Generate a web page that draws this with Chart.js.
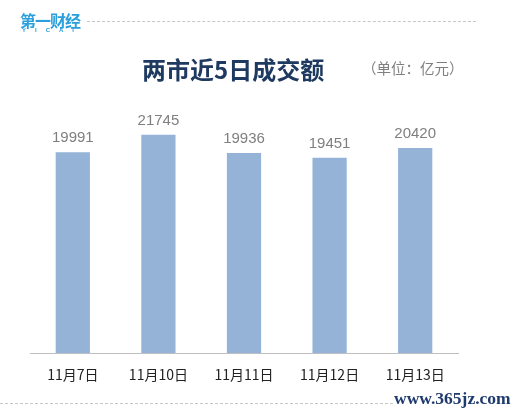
<!DOCTYPE html>
<html>
<head>
<meta charset="utf-8">
<script src="https://cdn.jsdelivr.net/npm/chart.js@4.4.0/dist/chart.umd.min.js"></script>
<style>
  body { margin: 0; background: #fff; }
  #wrap { position: relative; width: 518px; height: 411px; overflow: hidden; }
  #c { position: absolute; left: 0; top: 0; }
  .abs { position: absolute; white-space: nowrap; }
  #logo { left: 20px; top: 8px; font: bold 16px "Noto Sans CJK SC", sans-serif; color: #2a9fdc; letter-spacing: -1px; }
  #logoSub { left: 22px; top: 27px; font: bold 6px "Liberation Sans", sans-serif; color: #2a9fdc; letter-spacing: 9px; }
  #topLine { left: 87px; top: 21px; width: 389px; border-top: 1px dashed #c8c8c8; }
  #bottomLine { left: 0px; top: 403px; width: 393px; border-top: 1px dashed #c8c8c8; }
  #title { left: 142px; top: 51px; font: bold 24px "Noto Sans CJK SC", sans-serif; color: #1f3a60; }
  #unit { left: 362px; top: 57px; font: 14.5px "Noto Sans CJK SC", sans-serif; color: #7f7f7f; }
  #mark { left: 394px; top: 388px; font: bold 17.5px "Liberation Serif", serif; color: #1f3a6e; }
</style>
</head>
<body>
<div id="wrap">
  <canvas id="c" width="518" height="411"></canvas>
  <div class="abs" id="logo">第一财经</div>
  <div class="abs" id="logoSub">YICAI</div>
  <div class="abs" id="topLine"></div>
  <div class="abs" id="bottomLine"></div>
  <div class="abs" id="title">两市近5日成交额</div>
  <div class="abs" id="unit">（单位：亿元）</div>
  <div class="abs" id="mark">www.365jz.com</div>
</div>
<script>
  const days = ['11月7日', '11月10日', '11月11日', '11月12日', '11月13日'];
  const turnover = [19991, 21745, 19936, 19451, 20420];

  // draw the value above each bar
  const valueLabels = {
    id: 'valueLabels',
    afterDatasetsDraw(chart) {
      const ctx = chart.ctx;
      const meta = chart.getDatasetMeta(0);
      ctx.save();
      ctx.font = '15px "Liberation Sans", Arial, sans-serif';
      ctx.fillStyle = '#7f7f7f';
      ctx.textAlign = 'center';
      ctx.textBaseline = 'middle';
      meta.data.forEach((bar, i) => {
        ctx.fillText(turnover[i], bar.x, bar.y - 14);
      });
      ctx.restore();
    }
  };

  new Chart('c', {
    type: 'bar',
    data: {
      labels: days,
      datasets: [{
        data: turnover,
        backgroundColor: '#95b3d7',
        categoryPercentage: 1,
        barPercentage: 0.4
      }]
    },
    options: {
      responsive: false,
      animation: false,
      layout: { padding: { left: 30, right: 60, top: 102, bottom: 15 } },
      plugins: { legend: { display: false }, tooltip: { enabled: false } },
      scales: {
        x: {
          grid: { display: false, drawTicks: false },
          border: { display: true, color: '#bfbfbf', width: 1 },
          ticks: { color: '#222', padding: 13, font: { size: 14, family: '"Noto Sans CJK SC", sans-serif' } }
        },
        y: { display: false, min: 0, max: 25000 }
      }
    },
    plugins: [valueLabels]
  });
</script>
</body>
</html>
